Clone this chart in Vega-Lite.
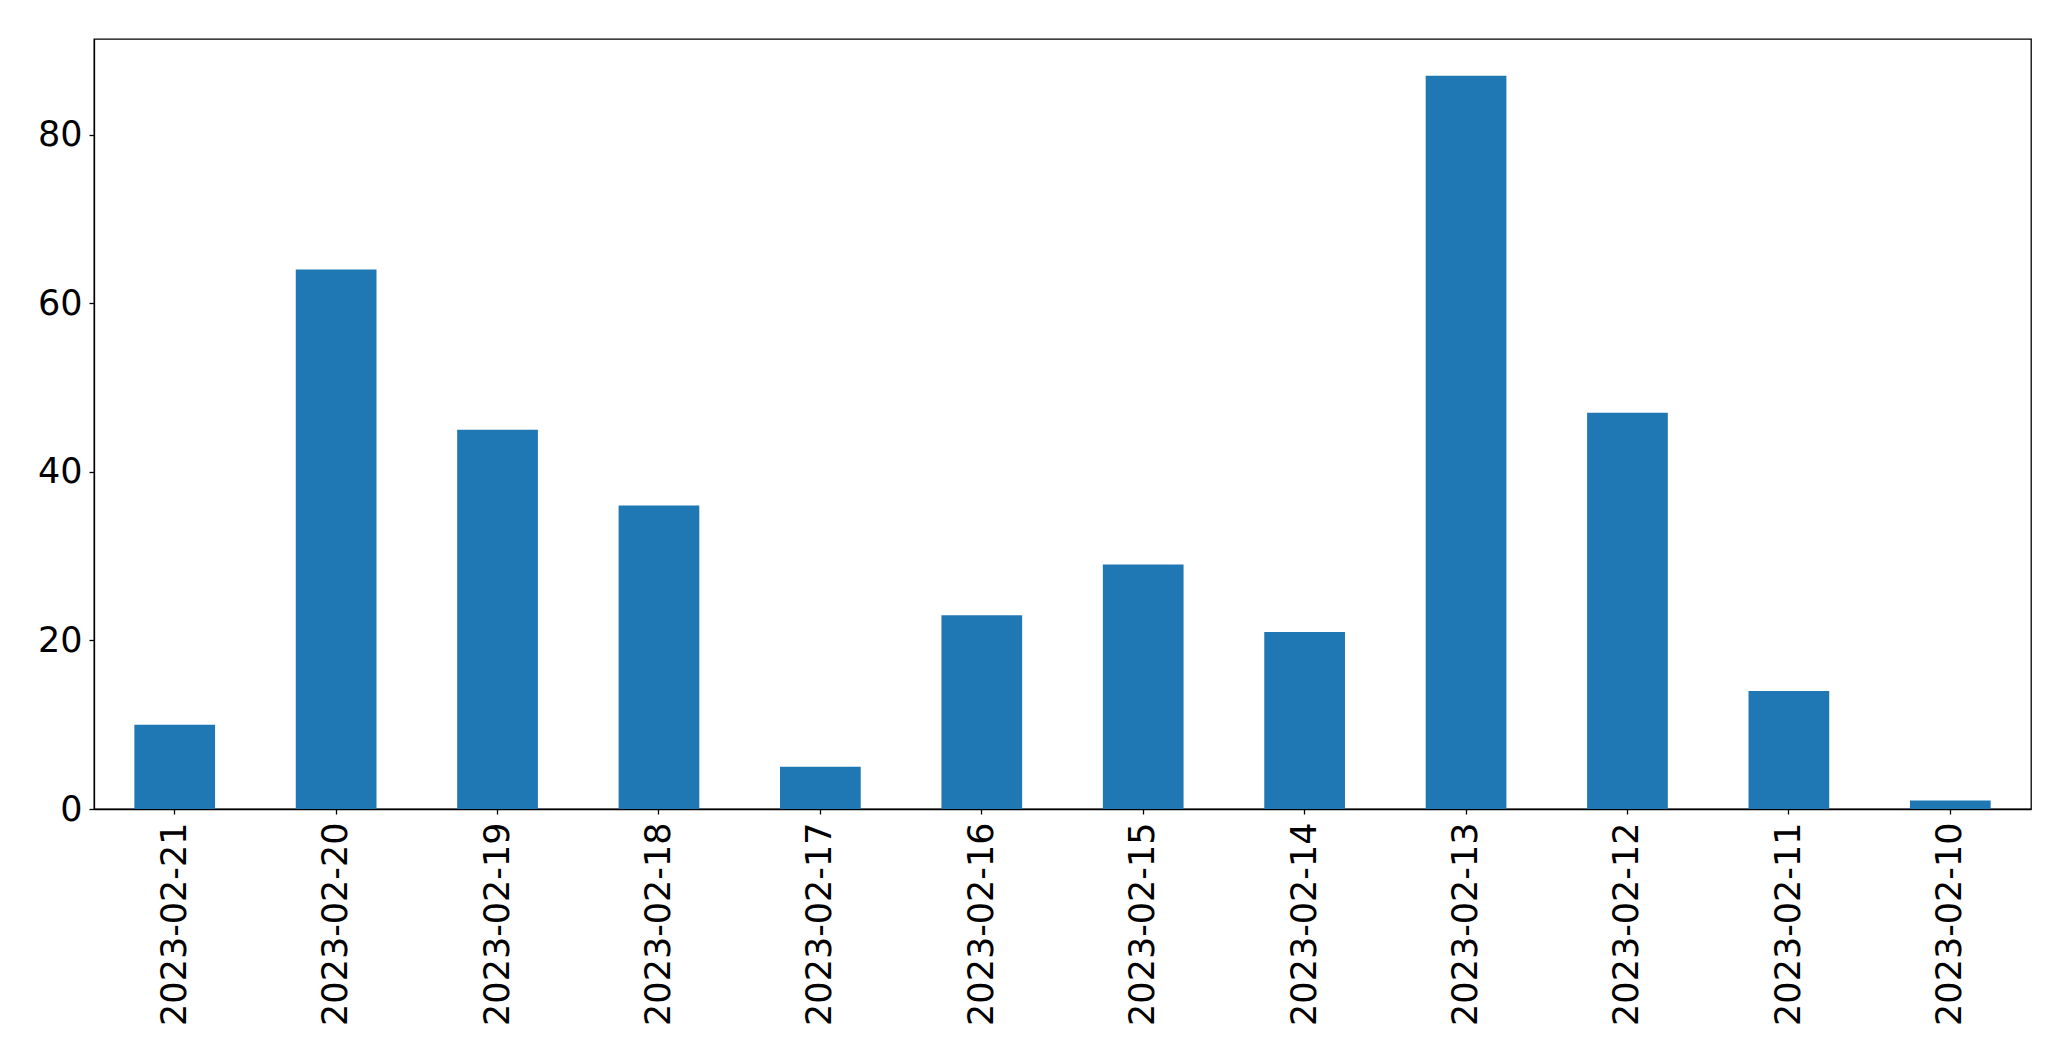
{
  "$schema": "https://vega.github.io/schema/vega-lite/v6.json",
  "width": 1937,
  "height": 770,
  "autosize": {"type": "none"},
  "padding": {"left": 94, "top": 39, "right": 40, "bottom": 252},
  "background": "white",
  "config": {
    "view": {"stroke": "black", "strokeWidth": 1.3},
    "axis": {
      "labelFont": "DejaVu Sans",
      "labelFontSize": 35,
      "labelColor": "black",
      "labelLimit": 0,
      "domainColor": "black",
      "tickColor": "black",
      "tickSize": 5,
      "tickWidth": 1.3,
      "domainWidth": 1.3,
      "grid": false,
      "title": null
    }
  },
  "data": {
    "values": [
      {"date": "2023-02-21", "count": 10},
      {"date": "2023-02-20", "count": 64},
      {"date": "2023-02-19", "count": 45},
      {"date": "2023-02-18", "count": 36},
      {"date": "2023-02-17", "count": 5},
      {"date": "2023-02-16", "count": 23},
      {"date": "2023-02-15", "count": 29},
      {"date": "2023-02-14", "count": 21},
      {"date": "2023-02-13", "count": 87},
      {"date": "2023-02-12", "count": 47},
      {"date": "2023-02-11", "count": 14},
      {"date": "2023-02-10", "count": 1}
    ]
  },
  "mark": {"type": "bar", "color": "#1f77b4"},
  "encoding": {
    "x": {
      "field": "date",
      "type": "nominal",
      "sort": null,
      "scale": {"paddingInner": 0.5, "paddingOuter": 0.25},
      "axis": {"labelAngle": -90, "labelPadding": 8, "labelAlign": "right", "labelBaseline": "middle"}
    },
    "y": {
      "field": "count",
      "type": "quantitative",
      "scale": {"domain": [0, 91.35], "nice": false, "zero": true},
      "axis": {"values": [0, 20, 40, 60, 80], "labelPadding": 7}
    }
  }
}
